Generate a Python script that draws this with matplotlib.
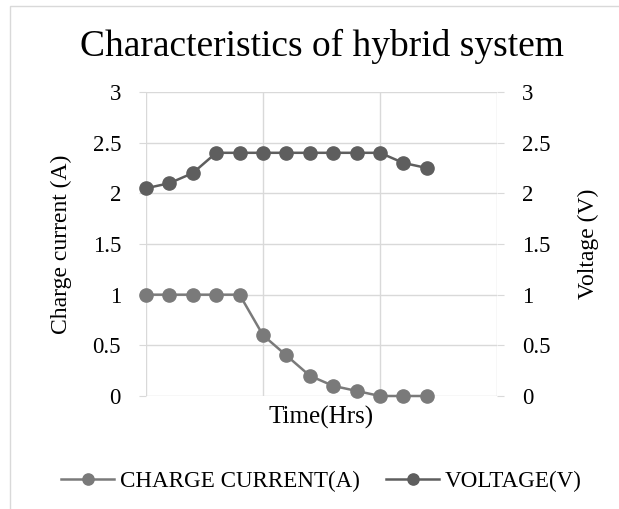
import matplotlib
matplotlib.use('Agg')
import matplotlib.pyplot as plt
from matplotlib.patches import Rectangle

plt.rcParams['font.family'] = 'Liberation Serif'

# data (13 samples, unlabelled time steps)
time_steps = list(range(13))
charge_current = [1, 1, 1, 1, 1, 0.6, 0.4, 0.2, 0.1, 0.05, 0, 0, 0]
voltage = [2.05, 2.1, 2.2, 2.4, 2.4, 2.4, 2.4, 2.4, 2.4, 2.4, 2.4, 2.3, 2.25]
y_ticks = [0, 0.5, 1, 1.5, 2, 2.5, 3]
y_tick_labels = ['0', '0.5', '1', '1.5', '2', '2.5', '3']

c_current = '#7a7a7a'
c_voltage = '#5e5e5e'
c_grid = '#d9d9d9'

fig = plt.figure(figsize=(6.19, 5.09), dpi=100)
fig.patches.append(Rectangle((10/619, -0.1), 1.2, 1 - 6/509 + 0.1, transform=fig.transFigure,
                             fill=False, edgecolor=c_grid, linewidth=1))

ax = fig.add_axes([146/619, 1 - 396/509, 351/619, 304/509])
ax2 = ax.twinx()

l1, = ax.plot(time_steps, charge_current, color=c_current, lw=1.8, marker='o', ms=9.5,
              label='CHARGE CURRENT(A)', clip_on=False, zorder=3)
l2, = ax2.plot(time_steps, voltage, color=c_voltage, lw=1.8, marker='o', ms=9.5,
               label='VOLTAGE(V)', clip_on=False, zorder=3)

for a in (ax, ax2):
    a.set_ylim(0, 3)
    a.set_yticks(y_ticks)
    a.set_yticklabels(y_tick_labels)
    a.set_xlim(0, 15)
    for s in a.spines.values():
        s.set_visible(False)
    a.tick_params(axis='y', length=5, color=c_grid, labelsize=16.5, pad=13)
ax.set_xticks([0, 5, 10, 15])
ax.tick_params(axis='x', length=0, labelbottom=False)
ax.grid(True, color=c_grid, lw=1)
ax.set_axisbelow(True)

ax.set_ylabel('Charge current (A)', fontsize=17, labelpad=15)
ax2.set_ylabel('Voltage (V)', fontsize=17, labelpad=20)
ax.set_xlabel('Time(Hrs)', fontsize=18, labelpad=7)

cx = 321.5 / 619
fig.text(cx, 1 - 46/509, 'Characteristics of hybrid system', fontsize=27,
         ha='center', va='center')

fig.legend([l1, l2], [l1.get_label(), l2.get_label()], loc='center',
           bbox_to_anchor=(cx, 1 - 481/509), ncol=2, frameon=False, fontsize=16.6,
           handlelength=2.3, handletextpad=0.25, columnspacing=1.15, markerscale=0.85)

fig.savefig('out.png', dpi=100)
